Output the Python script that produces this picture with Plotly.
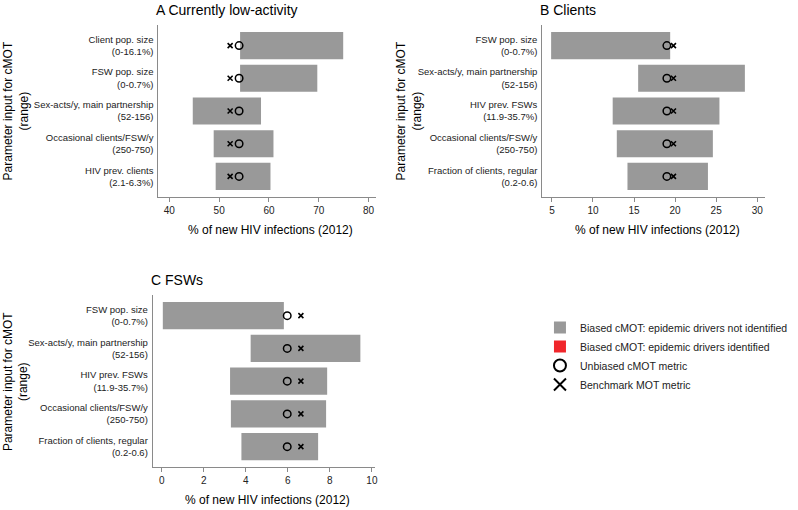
import plotly.graph_objects as go

W, H = 798, 510

# ---------------- data ----------------
a_labels = ["Client pop. size<br>(0-16.1%)", "FSW pop. size<br>(0-0.7%)",
            "Sex-acts/y, main partnership<br>(52-156)", "Occasional clients/FSW/y<br>(250-750)",
            "HIV prev. clients<br>(2.1-6.3%)"]
a_low = [54.2, 54.2, 44.7, 48.9, 49.3]
a_high = [74.9, 69.7, 58.4, 60.9, 60.3]
a_unbiased = [54.0, 54.0, 54.0, 54.0, 54.0]
a_bench = [52.2, 52.2, 52.2, 52.2, 52.2]
a_ticks = [40, 50, 60, 70, 80]

b_labels = ["FSW pop. size<br>(0-0.7%)", "Sex-acts/y, main partnership<br>(52-156)",
            "HIV prev. FSWs<br>(11.9-35.7%)", "Occasional clients/FSW/y<br>(250-750)",
            "Fraction of clients, regular<br>(0.2-0.6)"]
b_low = [4.9, 15.5, 12.4, 12.9, 14.2]
b_high = [19.4, 28.5, 25.4, 24.6, 24.0]
b_unbiased = [19.0, 19.0, 19.0, 19.0, 19.0]
b_bench = [19.8, 19.8, 19.8, 19.8, 19.8]
b_ticks = [5, 10, 15, 20, 25, 30]

c_labels = b_labels
c_low = [0.05, 4.23, 3.25, 3.29, 3.79]
c_high = [5.81, 9.45, 7.87, 7.82, 7.44]
c_unbiased = [5.97, 5.97, 5.97, 5.97, 5.97]
c_bench = [6.62, 6.62, 6.62, 6.62, 6.62]
c_ticks = [0, 2, 4, 6, 8, 10]

titles = ["A Currently low-activity", "B Clients", "C FSWs"]
x_title = "% of new HIV infections (2012)"
y_title = "Parameter input for cMOT<br>(range)"
legend_names = ["Biased cMOT: epidemic drivers not identified",
                "Biased cMOT: epidemic drivers identified",
                "Unbiased cMOT metric", "Benchmark MOT metric"]

# ---------------- styling / layout ----------------
FONT = "Liberation Sans, Arial, sans-serif"
GRAY_BAR = "#999999"
RED_BAR = "#f0262b"
AXIS = "#8a8a8a"
TXT = "#222222"

def fx(p):
    return p / W

def fy(p):
    return 1 - p / H

panels = [
    dict(labels=a_labels, low=a_low, high=a_high, unb=a_unbiased, ben=a_bench, ticks=a_ticks,
         xr=[37.8, 81.4], px_x=(159, 377), px_y=(25, 197), ytx=16.5),
    dict(labels=b_labels, low=b_low, high=b_high, unb=b_unbiased, ben=b_bench, ticks=b_ticks,
         xr=[3.82, 31.0], px_x=(544.3, 768.3), px_y=(25, 197), ytx=411),
    dict(labels=c_labels, low=c_low, high=c_high, unb=c_unbiased, ben=c_bench, ticks=c_ticks,
         xr=[-0.43, 10.16], px_x=(153.3, 376.7), px_y=(295, 467.3), ytx=16),
]

fig = go.Figure()
annotations = []

for i, p in enumerate(panels):
    sfx = "" if i == 0 else str(i + 1)
    xa, ya = "x" + sfx, "y" + sfx
    first = i == 0
    widths = [h - l for l, h in zip(p["low"], p["high"])]
    fig.add_trace(go.Bar(y=p["labels"], x=widths, base=p["low"], orientation="h",
                         width=0.83, marker=dict(color=GRAY_BAR, line=dict(width=0)),
                         name=legend_names[0], showlegend=first, legendrank=1,
                         xaxis=xa, yaxis=ya))
    if first:
        # no bar of this kind in the data: zero-length bar so it appears in legend only
        fig.add_trace(go.Bar(y=[p["labels"][0]], x=[0], base=[p["low"][0]], orientation="h",
                             width=0.83, marker=dict(color=RED_BAR, line=dict(width=0)),
                             name=legend_names[1], showlegend=True, legendrank=2,
                             hoverinfo="skip", xaxis=xa, yaxis=ya))
    fig.add_trace(go.Scatter(x=p["unb"], y=p["labels"], mode="markers",
                             marker=dict(symbol="circle-open", size=7.5, color="black",
                                         line=dict(width=1.5, color="black")),
                             name=legend_names[2], showlegend=first, legendrank=3,
                             xaxis=xa, yaxis=ya))
    fig.add_trace(go.Scatter(x=p["ben"], y=p["labels"], mode="markers",
                             marker=dict(symbol="x-thin-open", size=5, color="black",
                                         line=dict(width=1.6, color="black")),
                             name=legend_names[3], showlegend=first, legendrank=4,
                             xaxis=xa, yaxis=ya))

    x0, x1 = p["px_x"]
    y0, y1 = p["px_y"]
    fig.update_layout(**{
        "xaxis" + sfx: dict(domain=[fx(x0), fx(x1)], range=p["xr"], anchor=ya,
                            tickvals=p["ticks"], ticks="outside", ticklen=4, tickwidth=1,
                            tickcolor=AXIS, showline=True, linecolor=AXIS, linewidth=1,
                            showgrid=False, zeroline=False,
                            tickfont=dict(size=10, color=TXT, family=FONT)),
        "yaxis" + sfx: dict(domain=[fy(y1), fy(y0)], anchor=xa, type="category",
                            categoryorder="array", categoryarray=p["labels"],
                            range=[4.63, -0.63], ticks="", showline=True, linecolor=AXIS,
                            linewidth=1, showgrid=False, zeroline=False, ticklabelstandoff=2,
                            tickfont=dict(size=9.5, color=TXT, family=FONT)),
    })
    annotations.append(dict(text=titles[i], x=fx(x0 - 4), y=fy(y0 - 15), xref="paper", yref="paper",
                            xanchor="left", yanchor="middle", showarrow=False,
                            font=dict(size=14, color="black", family=FONT)))
    annotations.append(dict(text=x_title, x=fx((x0 + x1) / 2 + 4), y=fy(y1 + 33), xref="paper",
                            yref="paper", xanchor="center", yanchor="middle", showarrow=False,
                            font=dict(size=12, color="black", family=FONT)))
    annotations.append(dict(text=y_title, x=fx(p["ytx"]), y=fy((y0 + y1) / 2), xref="paper",
                            yref="paper", xanchor="center", yanchor="middle", showarrow=False,
                            textangle=-90,
                            font=dict(size=12, color="black", family=FONT)))

fig.update_layout(
    width=W, height=H,
    margin=dict(l=0, r=0, t=0, b=0),
    paper_bgcolor="white", plot_bgcolor="white",
    font=dict(family=FONT, color=TXT),
    barmode="overlay",
    annotations=annotations,
    showlegend=True,
    legend=dict(x=fx(542), y=fy(313), xanchor="left", yanchor="top",
                font=dict(size=10.5, color=TXT, family=FONT), traceorder="normal",
                bgcolor="rgba(0,0,0,0)", tracegroupgap=0, itemsizing="constant"),
)

fig.write_html("out.html", config={"displayModeBar": False},
               post_script="document.body.style.margin='0px';document.body.style.overflow='hidden';")
